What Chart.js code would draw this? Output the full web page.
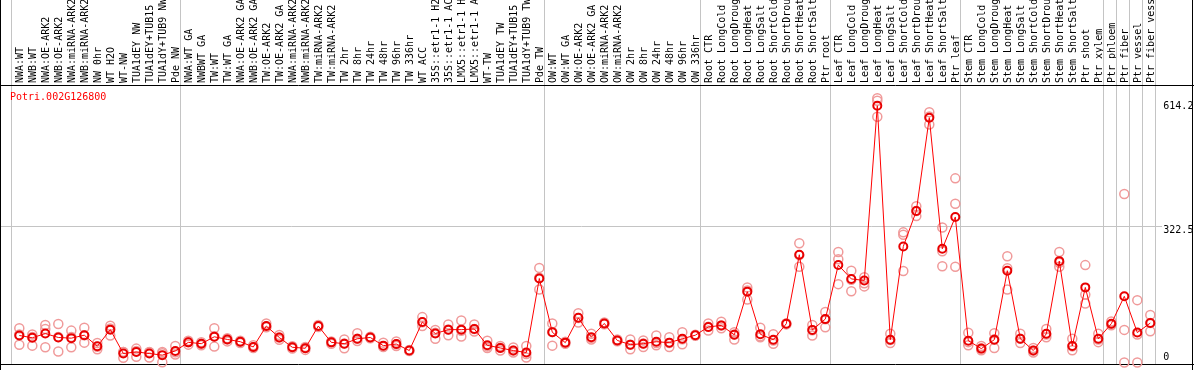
<!DOCTYPE html>
<html>
<head>
<meta charset="utf-8">
<script src="https://cdn.jsdelivr.net/npm/chart.js@4/dist/chart.umd.min.js"></script>
<style>
  html, body { margin: 0; padding: 0; background: #fff; }
</style>
</head>
<body>
<canvas id="chart" width="1194" height="370"></canvas>
<script>
const geneName = 'Potri.002G126800';

const samples = [
  'NWA:WT', 'NWB:WT', 'NWA:OE-ARK2', 'NWB:OE-ARK2', 'NWA:miRNA-ARK2', 'NWB:miRNA-ARK2', 'NW 0hr', 'WT H2O', 'WT-NW',
  'TUA1dEY NW', 'TUA1dEY+TUB15 NW', 'TUA1dY+TUB9 NW', 'Pde NW',
  'NWA:WT GA', 'NWBWT GA', 'TW:WT', 'TW:WT GA', 'NWA:OE-ARK2 GA', 'NWB:OE-ARK2 GA', 'TW:OE-ARK2', 'TW:OE-ARK2 GA',
  'NWA:miRNA-ARK2', 'NWB:miRNA-ARK2', 'TW:miRNA-ARK2', 'TW:miRNA-ARK2', 'TW 2hr', 'TW 8hr', 'TW 24hr', 'TW 48hr',
  'TW 96hr', 'TW 336hr', 'WT ACC', '35S::etr1-1 H2O', '35S::etr1-1 ACC', 'LMX5::etr1-1 H2O', 'LMX5::etr1-1 ACC',
  'WT-TW', 'TUA1dEY TW', 'TUA1dEY+TUB15 TW', 'TUA1dY+TUB9 TW', 'Pde TW',
  'OW:WT', 'OW:WT GA', 'OW:OE-ARK2', 'OW:OE-ARK2 GA', 'OW:miRNA-ARK2', 'OW:miRNA-ARK2', 'OW 2hr', 'OW 8hr',
  'OW 24hr', 'OW 48hr', 'OW 96hr', 'OW 336hr',
  'Root CTR', 'Root LongCold', 'Root LongDrought', 'Root LongHeat', 'Root LongSalt', 'Root ShortCold',
  'Root ShortDrought', 'Root ShortHeat', 'Root ShortSalt', 'Ptr root',
  'Leaf CTR', 'Leaf LongCold', 'Leaf LongDrought', 'Leaf LongHeat', 'Leaf LongSalt', 'Leaf ShortCold',
  'Leaf ShortDrought', 'Leaf ShortHeat', 'Leaf ShortSalt', 'Ptr leaf',
  'Stem CTR', 'Stem LongCold', 'Stem LongDrought', 'Stem LongHeat', 'Stem LongSalt', 'Stem ShortCold',
  'Stem ShortDrought', 'Stem ShortHeat', 'Stem ShortSalt', 'Ptr shoot', 'Ptr xylem',
  'Ptr phloem', 'Ptr fiber', 'Ptr vessel', 'Ptr fiber vessel'
];

const meanValues = [
  63.7, 58.3, 68.3, 59, 57.4, 64.4, 38.2, 77.5, 21.2, 25, 21.2, 17.4, 27.3,
  47.5, 44.4, 60.6, 54.4, 49, 36.6, 86, 59, 35.9, 33.6, 86, 47.5, 44.4, 56, 59, 39.8,
  43.5, 28.2, 95.4, 68.3, 77.5, 77.5, 79, 40.5, 34.3, 28.2, 23.6, 198,
  71.3, 46.8, 105.3, 59.7, 92.1, 52, 42.1, 44.4, 49, 46.8, 56, 64.4,
  83.8, 87.5, 65.3, 167, 66.7, 53.7, 91.4, 254, 76.9, 102.3,
  229.6, 197, 193.3, 605, 53.7, 273.6, 357, 577, 268, 343,
  51.4, 32.8, 53.7, 216.4, 56, 28.2, 67.6, 238.9, 39, 177, 56,
  91.4, 156, 70.6, 93
];

const rep1 = [
  80.6, 66, 88.4, 90.7, 75.2, 82.2, 45.8, 86.8, 11, 32.8, 25, 25, 38.9,
  51.4, 48, 80.6, 57.4, 51.4, 40.5, 92, 65, 38.2, 36.6, 88.4, 49.8, 54.4, 69, 60.6, 46.8,
  49.8, 29.7, 107, 76.9, 89.8, 99, 89.8, 51.4, 38.9, 35.2, 39, 223,
  92, 49, 116, 67.6, 94.4, 54.4, 54.4, 52, 63.7, 59.7, 71.3, 65.3,
  92.1, 96, 71.3, 177, 82.2, 66.7, 89.8, 281, 88.4, 119,
  260.4, 216.4, 201, 623, 67.6, 306.7, 368.5, 590, 318, 434,
  70, 39, 69, 250.5, 67.6, 34.3, 79, 260.4, 56, 229.6, 67.6,
  96.8, 397, 147, 112
];

const rep2 = [
  42, 39.8, 79, 25.9, 35.9, 46.8, 31.3, 63.7, 25, 13.4, 12, 0.5, 19,
  42.1, 40.5, 37.5, 49.8, 45.8, 34.3, 82.9, 53.7, 32.8, 29.7, 83.8, 44.4, 33.6, 50.5, 57, 36.6,
  38.9, 27, 86, 56, 64.4, 61.3, 72.9, 34.3, 28.2, 23.6, 12, 172,
  39.8, 44, 94.4, 54.4, 90, 50, 31.3, 36.6, 40.5, 36.6, 42.8, 63,
  75.2, 80.6, 54.4, 148.6, 59.7, 44.4, 92, 225.7, 63.7, 82.9,
  243.5, 167.8, 179.4, 617, 45.8, 301, 345, 561, 227, 374,
  40.5, 29, 34.3, 171.8, 45.8, 23.6, 59.7, 225.7, 29, 139, 48,
  88, 76.9, 0, 73.6
];

const rep3 = [
  66, 60, 35.9, 60, 60, 64, 37, 80, 25, 27, 24, 22, 24,
  48, 44, 62, 55, 49, 36, 84, 59, 36, 34, 86, 48, 45, 56, 59, 38,
  43, 28, 95, 70, 78, 75, 79, 38, 35, 28, 20, 200,
  72, 47, 105, 58, 92, 52, 42, 45, 46, 46, 55, 64,
  84, 87, 66, 170, 62, 52, 92, 253, 76, 102,
  184.7, 195, 187, 579, 53, 215.7, 357, 580, 262, 225.7,
  48, 33, 55, 222, 56, 28, 66, 235, 38, 160, 54,
  90, 0, 66, 93
];

const yTickValues = [0, 322.5, 614.2];
const groupBreaks = [0, 13, 41, 53, 63, 73, 84, 85, 86, 87, 88];
const monoFont = '10px "DejaVu Sans Mono", monospace';

const decorPlugin = {
  id: 'decor',
  beforeDatasetsDraw(chart) {
    const { ctx, chartArea, scales: { x, y } } = chart;
    const step = x.width / samples.length;
    ctx.save();
    ctx.lineWidth = 1;
    ctx.strokeStyle = '#c4c4c4';
    groupBreaks.forEach((k) => {
      const px = Math.round(x.left + k * step - 2) + 0.5;
      ctx.beginPath(); ctx.moveTo(px, 0); ctx.lineTo(px, chartArea.bottom); ctx.stroke();
    });
    yTickValues.filter((v) => v > 0 && v < 600).forEach((v) => {
      const py = Math.round(y.getPixelForValue(v)) + 0.5;
      ctx.beginPath(); ctx.moveTo(1, py); ctx.lineTo(1162, py); ctx.stroke();
    });
    ctx.strokeStyle = '#000';
    const top = Math.round(chartArea.top) + 0.5;
    const bottom = Math.round(chartArea.bottom) + 0.5;
    ctx.beginPath();
    ctx.moveTo(0, top); ctx.lineTo(chart.width, top);
    ctx.moveTo(0, bottom); ctx.lineTo(chart.width, bottom);
    ctx.moveTo(0.5, 0); ctx.lineTo(0.5, chart.height);
    ctx.moveTo(1192.5, 0); ctx.lineTo(1192.5, chart.height);
    ctx.stroke();
    ctx.font = monoFont;
    ctx.textBaseline = 'middle';
    ctx.fillStyle = '#000';
    yTickValues.forEach((v) => {
      const py = Math.min(y.getPixelForValue(v) + 4.5, chartArea.bottom - 7);
      ctx.fillText(String(v), chartArea.right + 6.5, py);
    });
    ctx.fillStyle = '#ff0000';
    ctx.fillText(geneName, 10, chartArea.top + 12);
    ctx.restore();
  }
};

const repStyle = (data) => ({
  data,
  showLine: false,
  pointRadius: 4.5,
  pointBorderWidth: 1.5,
  pointBorderColor: '#f09a9a',
  pointBackgroundColor: 'rgba(0,0,0,0)',
  clip: false
});

new Chart(document.getElementById('chart'), {
  type: 'line',
  data: {
    labels: samples,
    datasets: [
      {
        data: meanValues,
        borderColor: '#ff0000',
        borderWidth: 1,
        pointRadius: 4,
        pointBorderWidth: 2,
        pointBorderColor: '#e80000',
        pointBackgroundColor: 'rgba(0,0,0,0)',
        tension: 0,
        clip: false
      },
      repStyle(rep1),
      repStyle(rep2),
      repStyle(rep3)
    ]
  },
  options: {
    responsive: false,
    animation: false,
    events: [],
    layout: { padding: { left: 12.8, right: 37.2, top: 0, bottom: 1 } },
    plugins: { legend: { display: false }, tooltip: { enabled: false } },
    scales: {
      x: {
        position: 'top',
        offset: true,
        grid: { display: false, drawTicks: false },
        border: { display: false },
        ticks: {
          autoSkip: false,
          minRotation: 90,
          maxRotation: 90,
          padding: 2,
          labelOffset: 13,
          color: '#000',
          font: { family: '"DejaVu Sans Mono", monospace', size: 10 }
        },
        afterFit: (scale) => { scale.height = 85; }
      },
      y: { display: false, min: -3.5, max: 654 }
    }
  },
  plugins: [decorPlugin]
});
</script>
</body>
</html>
